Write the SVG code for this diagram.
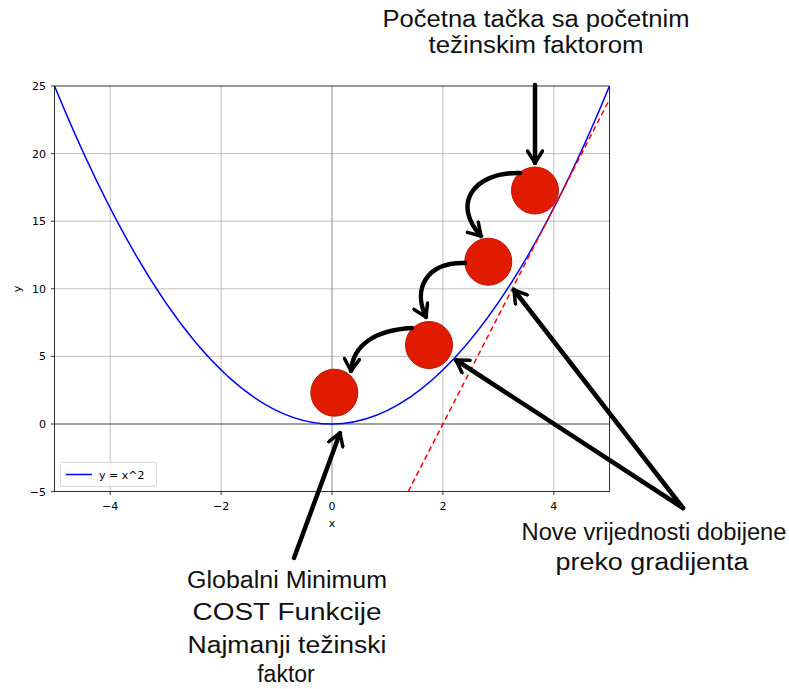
<svg xmlns="http://www.w3.org/2000/svg" width="789" height="689" viewBox="0 0 789 689">
<style>
.grid{stroke:#b0b0b0;stroke-width:0.8;fill:none}
.tick{stroke:#000;stroke-width:0.8}
.tl{font-family:"DejaVu Sans",sans-serif;font-size:11px;fill:#000}
.hand{font-family:"Liberation Sans",sans-serif;font-size:23px;fill:#111;text-anchor:middle}
.arr{fill:none;stroke:#000;stroke-width:4.5;stroke-linecap:round;stroke-linejoin:round}
.dot{fill:#e01b00;stroke:#b81600;stroke-width:1}
</style>
<defs>
<marker id="ah" viewBox="-14 -9 16 18" markerWidth="16" markerHeight="18" refX="0" refY="0" orient="auto" markerUnits="userSpaceOnUse">
<path d="M-12,-7.5 L0,0 L-12,7.5" fill="none" stroke="#000" stroke-width="3.5" stroke-linecap="round" stroke-linejoin="round"/>
</marker>
<clipPath id="plot"><rect x="54.5" y="86" width="555" height="405.6"/></clipPath>
</defs>
<rect width="789" height="689" fill="#fff"/>
<g id="axes">
<g id="grid">
<line class="grid" x1="110.2" y1="86" x2="110.2" y2="491.6"/>
<line class="grid" x1="221.1" y1="86" x2="221.1" y2="491.6"/>
<line class="grid" x1="442.9" y1="86" x2="442.9" y2="491.6"/>
<line class="grid" x1="553.8" y1="86" x2="553.8" y2="491.6"/>
<line class="grid" x1="54.5" y1="153.6" x2="609.5" y2="153.6"/>
<line class="grid" x1="54.5" y1="221.2" x2="609.5" y2="221.2"/>
<line class="grid" x1="54.5" y1="288.8" x2="609.5" y2="288.8"/>
<line class="grid" x1="54.5" y1="356.4" x2="609.5" y2="356.4"/>
<line x1="332" y1="86" x2="332" y2="491.6" stroke="#8a8a8a" stroke-width="1"/>
<line x1="54.5" y1="424" x2="609.5" y2="424" stroke="#444" stroke-width="1"/>
</g>
<g id="curves" clip-path="url(#plot)">
<path d="M54.5,86 Q332,762 609.5,86" fill="none" stroke="#0000ff" stroke-width="1.5"/>
<line x1="408.2" y1="491.6" x2="609.5" y2="99.3" stroke="#ff0000" stroke-width="1.5" stroke-dasharray="5.5,3.5"/>
</g>
<rect x="54.5" y="86" width="555" height="405.6" fill="none" stroke="#000" stroke-width="0.8"/>
<g id="ticks">
<line class="tick" x1="110.2" y1="491.6" x2="110.2" y2="495.1"/>
<line class="tick" x1="221.1" y1="491.6" x2="221.1" y2="495.1"/>
<line class="tick" x1="332" y1="491.6" x2="332" y2="495.1"/>
<line class="tick" x1="442.9" y1="491.6" x2="442.9" y2="495.1"/>
<line class="tick" x1="553.8" y1="491.6" x2="553.8" y2="495.1"/>
<line class="tick" x1="51" y1="86" x2="54.5" y2="86"/>
<line class="tick" x1="51" y1="153.6" x2="54.5" y2="153.6"/>
<line class="tick" x1="51" y1="221.2" x2="54.5" y2="221.2"/>
<line class="tick" x1="51" y1="288.8" x2="54.5" y2="288.8"/>
<line class="tick" x1="51" y1="356.4" x2="54.5" y2="356.4"/>
<line class="tick" x1="51" y1="424" x2="54.5" y2="424"/>
<line class="tick" x1="51" y1="491.6" x2="54.5" y2="491.6"/>
</g>
<g id="ticklabels" class="tl">
<text x="110.2" y="510" text-anchor="middle">−4</text>
<text x="221.1" y="510" text-anchor="middle">−2</text>
<text x="332" y="510" text-anchor="middle">0</text>
<text x="442.9" y="510" text-anchor="middle">2</text>
<text x="553.8" y="510" text-anchor="middle">4</text>
<text x="46" y="90" text-anchor="end">25</text>
<text x="46" y="157.6" text-anchor="end">20</text>
<text x="46" y="225.2" text-anchor="end">15</text>
<text x="46" y="292.8" text-anchor="end">10</text>
<text x="46" y="360.4" text-anchor="end">5</text>
<text x="46" y="428" text-anchor="end">0</text>
<text x="46" y="495.6" text-anchor="end">−5</text>
<text x="332" y="527" text-anchor="middle">x</text>
<text x="21" y="289" text-anchor="middle" transform="rotate(-90 21 289)">y</text>
</g>
<g id="legend">
<rect x="60.5" y="462.5" width="96" height="24" rx="2" fill="#fff" fill-opacity="0.8" stroke="#cccccc" stroke-width="0.8"/>
<line x1="66" y1="474.5" x2="92" y2="474.5" stroke="#0000ff" stroke-width="1.5"/>
<text class="tl" x="99" y="478.5">y = x^2</text>
</g>
</g>
<g id="nodes">
<circle id="p1" class="dot" cx="535" cy="190.5" r="23.5"/>
<circle id="p2" class="dot" cx="488.3" cy="261.7" r="23.5"/>
<circle id="p3" class="dot" cx="429" cy="345" r="23.5"/>
<circle id="p4" class="dot" cx="334.3" cy="392.7" r="23.5"/>
</g>
<g id="connectors">
<path class="arr" d="M535,85 L535,163" marker-end="url(#ah)"/>
<path class="arr" d="M520,173 C472,172 452,205 481,236" marker-end="url(#ah)"/>
<path class="arr" d="M465,263 C425,262 413,290 426,317" marker-end="url(#ah)"/>
<path class="arr" d="M412,328 C375,330 353,345 351,371" marker-end="url(#ah)"/>
<path class="arr" d="M294,558 L340,433" marker-end="url(#ah)"/>
<path class="arr" d="M683,508 L514,290" marker-end="url(#ah)"/>
<path class="arr" d="M683,508 L456,360" marker-end="url(#ah)"/>
</g>
<g id="labels">
<text class="hand" x="536" y="27" textLength="307" lengthAdjust="spacingAndGlyphs">Početna tačka sa početnim</text>
<text class="hand" x="536" y="53" textLength="215" lengthAdjust="spacingAndGlyphs">težinskim faktorom</text>
<text class="hand" x="287" y="588" textLength="200" lengthAdjust="spacingAndGlyphs">Globalni Minimum</text>
<text class="hand" x="287" y="620" textLength="189" lengthAdjust="spacingAndGlyphs">COST Funkcije</text>
<text class="hand" x="287" y="653" textLength="199" lengthAdjust="spacingAndGlyphs">Najmanji težinski</text>
<text class="hand" x="286" y="682">faktor</text>
<text class="hand" x="654" y="540" textLength="265" lengthAdjust="spacingAndGlyphs">Nove vrijednosti dobijene</text>
<text class="hand" x="652" y="570" textLength="193" lengthAdjust="spacingAndGlyphs">preko gradijenta</text>
</g>
</svg>
